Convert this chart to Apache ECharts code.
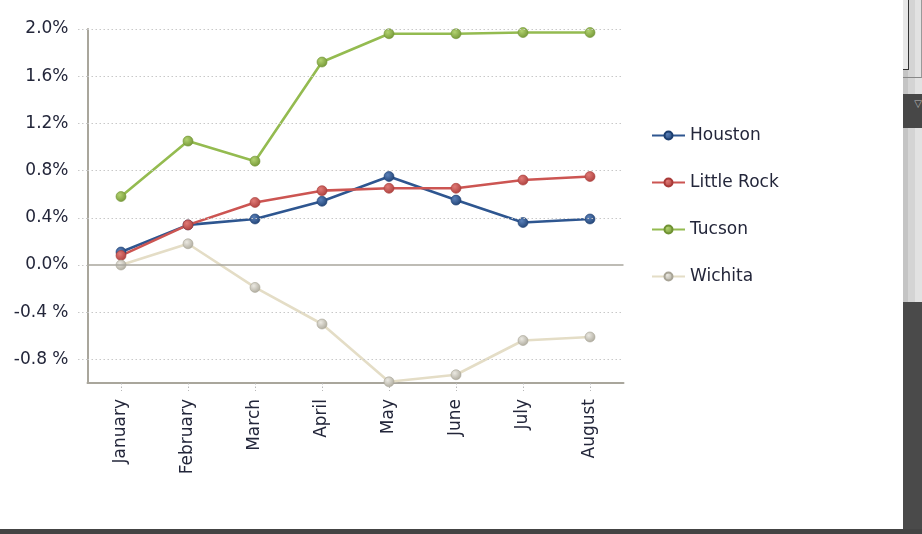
<!DOCTYPE html>
<html>
<head>
<meta charset="utf-8">
<script src="https://cdn.jsdelivr.net/npm/echarts@6/dist/echarts.min.js"></script>
<style>
  html, body { margin: 0; padding: 0; background: #fff; }
  #chart { position: absolute; left: 0; top: 0; width: 922px; height: 534px; }
  .chrome { position: absolute; }
</style>
</head>
<body>
<div id="chart"></div>
<!-- surrounding window chrome visible in the screenshot -->
<div class="chrome" style="left:903px;top:0;width:19px;height:302px;background:linear-gradient(to right,#c4c4c4 0,#c4c4c4 5px,#d4d4d4 5px,#d4d4d4 12px,#e2e2e2 12px);"></div>
<div class="chrome" style="left:903px;top:0;width:5px;height:69px;border-right:1px solid #333;border-bottom:1px solid #333;background:#e8e8e8;"></div>
<div class="chrome" style="left:903px;top:0;width:19px;height:78px;border-bottom:1px solid #888;box-sizing:border-box;border-right:1px solid #999;"></div>
<div class="chrome" style="left:903px;top:94px;width:19px;height:34px;background:#474747;color:#bbb;font:10px 'DejaVu Sans';line-height:20px;text-align:right;">&#9661;</div>
<div class="chrome" style="left:903px;top:302px;width:19px;height:232px;background:#4a4a4a;"></div>
<div class="chrome" style="left:0;top:529px;width:922px;height:5px;background:#444;"></div>
<script>
var months = ['January', 'February', 'March', 'April', 'May', 'June', 'July', 'August'];
var houston    = [0.11, 0.34, 0.39, 0.54, 0.75, 0.55, 0.36, 0.39];
var littleRock = [0.08, 0.34, 0.53, 0.63, 0.65, 0.65, 0.72, 0.75];
var tucson     = [0.58, 1.05, 0.88, 1.72, 1.96, 1.96, 1.97, 1.97];
var wichita    = [0.00, 0.18, -0.19, -0.50, -0.99, -0.93, -0.64, -0.61];
var yTicks     = [-0.8, -0.4, 0.4, 0.8, 1.2, 1.6, 2.0];
var yLabels    = [-0.8, -0.4, 0.0, 0.4, 0.8, 1.2, 1.6, 2.0];

var chart = echarts.init(document.getElementById('chart'), null, { renderer: 'canvas' });

function sphere(light, dark) {
  return {
    type: 'radial', x: 0.38, y: 0.35, r: 0.75,
    colorStops: [{ offset: 0, color: light }, { offset: 1, color: dark }]
  };
}

function lineSeries(name, data, lineColor, light, dark) {
  return {
    name: name,
    type: 'line',
    data: data,
    z: 3,
    symbol: 'circle',
    symbolSize: 10,
    showSymbol: true,
    lineStyle: { color: lineColor, width: 2.6 },
    itemStyle: { color: sphere(light, dark), borderColor: dark, borderWidth: 0.6 },
    emphasis: { disabled: true },
    animation: false
  };
}

var textColor = '#23263a';
var font = 'DejaVu Sans';

var gridLines = yTicks.map(function (v) {
  return { yAxis: v, lineStyle: { color: '#c8c8c8', type: [1.5, 2.5], width: 1 } };
});
gridLines.push({ yAxis: 0, lineStyle: { color: '#a9a69c', type: 'solid', width: 1.6 } });

chart.setOption({
  animation: false,
  grid: { left: 87.5, right: 298.5, top: 29, bottom: 151, containLabel: false },
  legend: {
    orient: 'vertical',
    left: 646,
    top: 122,
    itemWidth: 33,
    itemHeight: 10,
    itemGap: 30,
    data: ['Houston', 'Little Rock', 'Tucson', 'Wichita'],
    textStyle: { fontFamily: font, fontSize: 17, color: textColor, padding: [0, 0, 0, 0] },
    selectedMode: false
  },
  xAxis: {
    type: 'category',
    data: months,
    boundaryGap: true,
    axisLine: { show: true, onZero: false, lineStyle: { color: '#a9a69c', width: 2 } },
    axisTick: { show: true, alignWithLabel: true, length: 8, lineStyle: { color: '#b8b8b8', type: [1.5, 2] } },
    axisLabel: { rotate: 90, margin: 16, fontFamily: font, fontSize: 17, color: textColor, interval: 0 },
    splitLine: { show: false }
  },
  yAxis: {
    type: 'value',
    min: -1.0,
    max: 2.0,
    axisLine: { show: true, lineStyle: { color: '#a9a69c', width: 2 } },
    axisTick: {
      show: true, length: 11, inside: false,
      customValues: yLabels,
      lineStyle: { color: '#c8c8c8', type: [1.5, 2.5], width: 1 }
    },
    axisLabel: {
      customValues: yLabels,
      margin: 19,
      fontFamily: font, fontSize: 17, color: textColor,
      formatter: function (v) {
        var s = (Math.round(v * 10) / 10).toFixed(1);
        return v < -0.001 ? s + ' %' : s + '%';
      }
    },
    splitLine: { show: false }
  },
  series: [
    {
      name: 'grid',
      type: 'line',
      data: [],
      z: 1,
      silent: true,
      markLine: { silent: true, symbol: 'none', label: { show: false }, animation: false, data: gridLines }
    },
    lineSeries('Houston', houston, '#2e5690', '#5a80b8', '#1c3e70'),
    lineSeries('Little Rock', littleRock, '#cc5552', '#e07a76', '#a83a38'),
    lineSeries('Tucson', tucson, '#94bb50', '#b2d270', '#6f9232'),
    lineSeries('Wichita', wichita, '#e4ddc6', '#ebe9e2', '#a8a496')
  ]
});
</script>
</body>
</html>
